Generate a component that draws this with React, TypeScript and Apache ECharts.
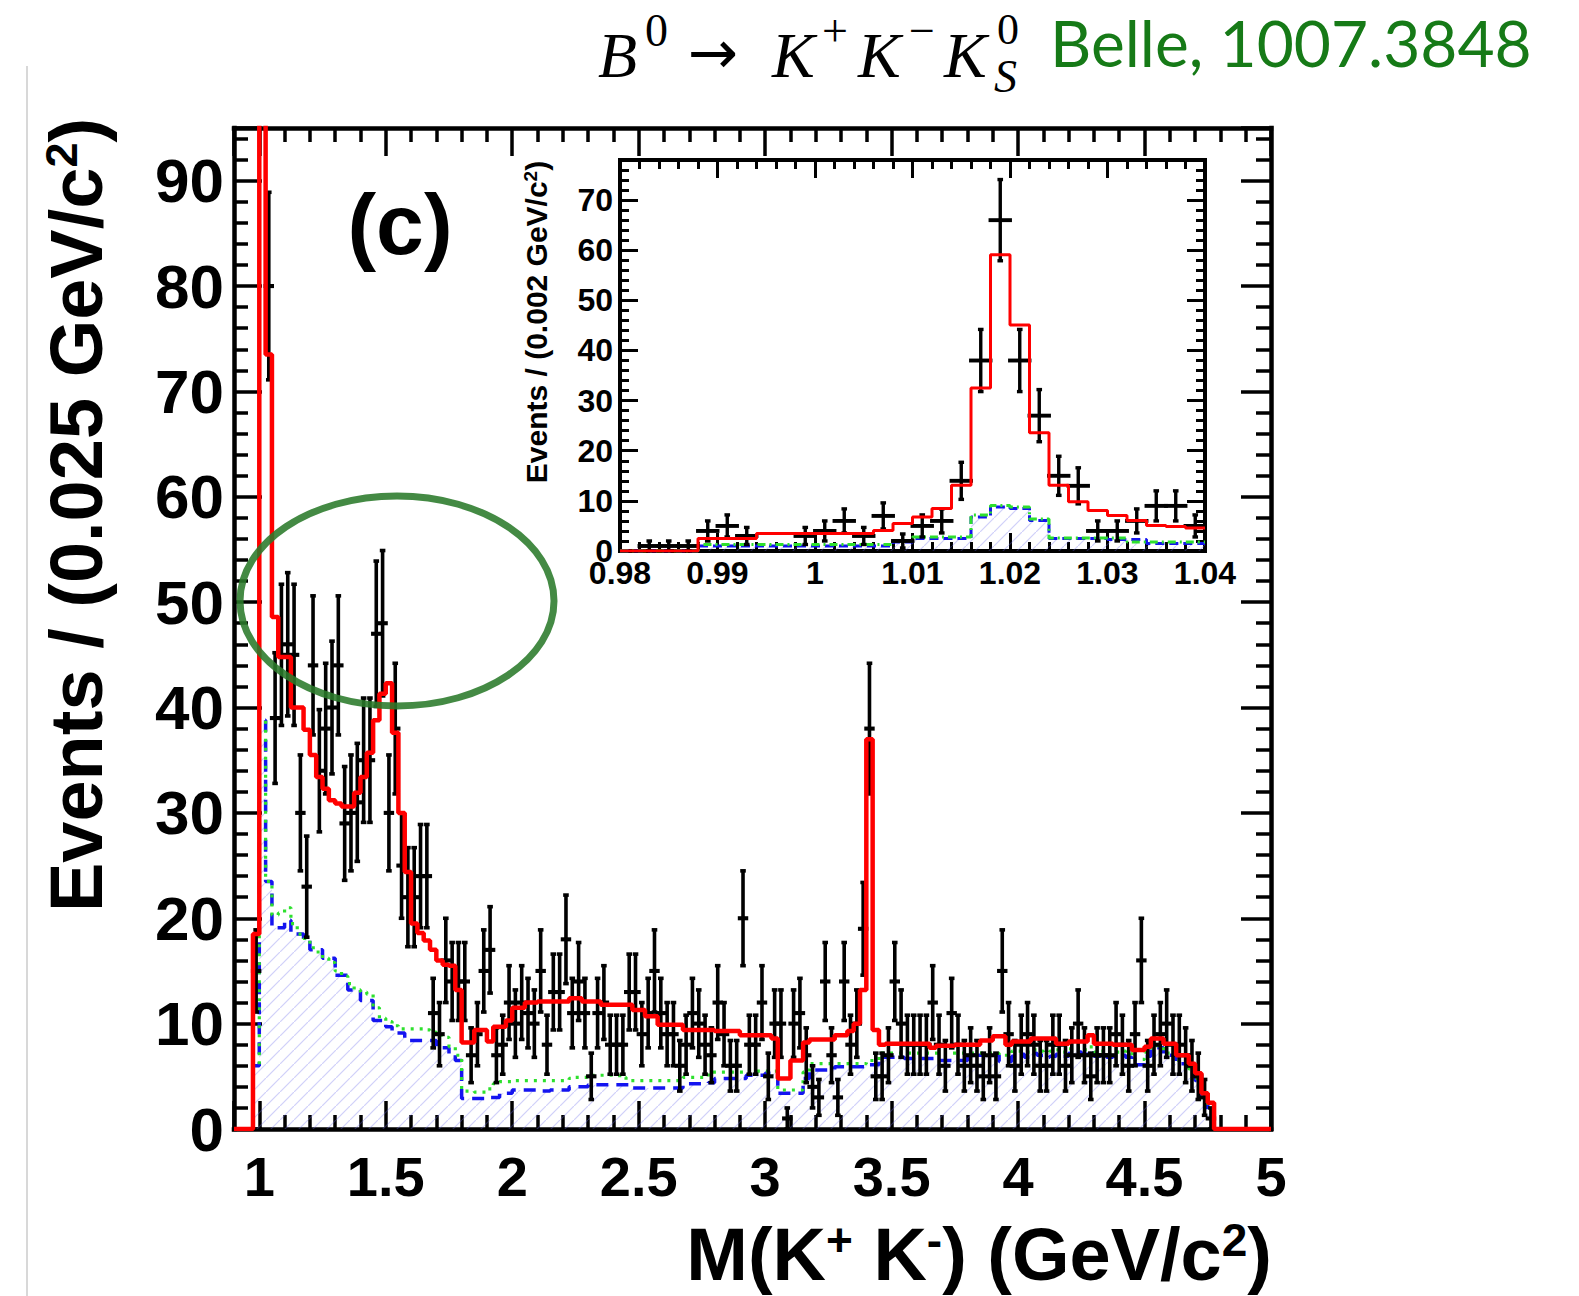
import React, { useEffect, useRef } from "react";
import * as echarts from "echarts";

// ---------- main histogram: M(K+K-) in bins of 0.025 GeV/c^2, 0.9 .. 5.0 ----------
const MAIN_X0 = 0.9;
const MAIN_BIN = 0.025;

const mainCounts: (number | null)[] = [
  null, null, null, 15, 150, 80, 39, 45, 46, 45,
  30, 23, 44, 34, 38, 40, 44, 29, 30, 31,
  35, 35, 47, 48, 30, 38, 25, 22, 22, 24,
  24, 11, 9, 16, 14, 14, 14, 7, 9, 15,
  17, 7, 8, 12, 10, 12, 11, 10, 15, 8,
  13, 13, 18, 11, 14, 11, 5, 11, 12, 8,
  8, 8, 13, 13, 9, 11, 15, 11, 9, 9,
  6, 8, 11, 10, 8, 7, 12, 9, 6, 6,
  20, 8, 8, 12, 5, 10, 10, 1, 10, 11,
  7, 4, 3, 14, 7, 3, 14, 8, 10, 19,
  38, 5, 5, 7, 14, 10, 8, 8, 8, 8,
  12, 8, 6, 11, 8, 6, 7, 6, 5, 7,
  5, 15, 9, 6, 8, 9, 8, 6, 6, 8,
  8, 6, 7, 10, 7, 5, 7, 7, 7, 9,
  8, 6, 9, 16, 6, 8, 9, 10, 8, 8,
  7, 6, 5, 3, 1, null, null, null, null, null,
  null, null, null, null,
];

const mainErrors: number[] = [
  0, 0, 0, 3.9, 12.2, 8.9, 6.2, 6.7, 6.8, 6.7,
  5.5, 4.8, 6.6, 5.8, 6.2, 6.3, 6.6, 5.4, 5.5, 5.6,
  5.9, 5.9, 6.9, 6.9, 5.5, 6.2, 5, 4.7, 4.7, 4.9,
  4.9, 3.3, 3, 4, 3.7, 3.7, 3.7, 2.6, 3, 3.9,
  4.1, 2.6, 2.8, 3.5, 3.2, 3.5, 3.3, 3.2, 3.9, 2.8,
  3.6, 3.6, 4.2, 3.3, 3.7, 3.3, 2.2, 3.3, 3.5, 2.8,
  2.8, 2.8, 3.6, 3.6, 3, 3.3, 3.9, 3.3, 3, 3,
  2.4, 2.8, 3.3, 3.2, 2.8, 2.6, 3.5, 3, 2.4, 2.4,
  4.5, 2.8, 2.8, 3.5, 2.2, 3.2, 3.2, 1, 3.2, 3.3,
  2.6, 2, 1.7, 3.7, 2.6, 1.7, 3.7, 2.8, 3.2, 4.4,
  6.2, 2.2, 2.2, 2.6, 3.7, 3.2, 2.8, 2.8, 2.8, 2.8,
  3.5, 2.8, 2.4, 3.3, 2.8, 2.4, 2.6, 2.4, 2.2, 2.6,
  2.2, 3.9, 3, 2.4, 2.8, 3, 2.8, 2.4, 2.4, 2.8,
  2.8, 2.4, 2.6, 3.2, 2.6, 2.2, 2.6, 2.6, 2.6, 3,
  2.8, 2.4, 3, 4, 2.4, 2.8, 3, 3.2, 2.8, 2.8,
  2.6, 2.4, 2.2, 1.7, 1, 0, 0, 0, 0, 0,
  0, 0, 0, 0,
];

const mainFit: number[] = [
  0, 0, 0, 18.5, 300, 73.5, 48.6, 44.8, 44.8, 40,
  40, 37.9, 35.5, 33.4, 32.3, 31.2, 30.9, 30.6, 30.6, 31.9,
  33.4, 35.7, 38.8, 41.3, 42.3, 37.6, 30, 24.4, 19.5, 18.6,
  17.9, 17, 16, 15.6, 15.5, 13.2, 8.2, 8.2, 9.4, 9.4,
  8.3, 9.7, 9.7, 10.3, 11.5, 11.5, 12, 12, 12.1, 12.1,
  12.1, 12.1, 12.1, 12.4, 12.4, 12.1, 12.1, 12.1, 11.8, 11.8,
  11.8, 11.8, 11.8, 11.3, 11.3, 10.7, 10.7, 9.9, 9.9, 9.9,
  9.9, 9.4, 9.4, 9.4, 9.4, 9.4, 9.3, 9.3, 9.3, 9.3,
  8.9, 8.9, 8.9, 8.9, 8.9, 8.6, 4.8, 4.8, 6.5, 6.5,
  8.2, 8.5, 8.5, 8.5, 8.5, 8.9, 8.9, 9.3, 10, 13.2,
  37, 9.4, 8, 8.1, 8.1, 8.1, 8.1, 8.1, 8.1, 8.1,
  7.7, 7.9, 7.9, 7.9, 8, 8, 8, 8, 8.4, 8.4,
  8.8, 8.8, 8, 8.3, 8.3, 8.3, 8.6, 8.6, 8.6, 8.6,
  8.1, 8.1, 8.3, 8.3, 8.3, 8.9, 8.1, 8.1, 8.1, 8,
  8, 8, 7.5, 7.5, 7.8, 8.6, 8.6, 8.1, 8.1, 7,
  7, 6.2, 5.3, 3.4, 2.5, 0, 0, 0, 0, 0,
  0, 0, 0, 0,
];

const mainBkgBlue: number[] = [
  0, 0, 0, 6, 38.8, 23.5, 19.1, 19.1, 19.8, 18.5,
  18.5, 17.9, 17, 17, 16.2, 16.2, 14.6, 14.6, 13.2, 13.2,
  12.2, 12.2, 10.3, 10.3, 9.7, 9.1, 9.1, 8.4, 8.4, 8.4,
  8.4, 8.4, 7.7, 7.7, 7, 6.5, 2.9, 2.9, 2.9, 2.9,
  3, 3, 3.4, 3.4, 3.7, 3.7, 3.7, 3.7, 3.6, 3.6,
  3.7, 3.7, 3.7, 4, 4, 4, 4.2, 4.2, 4.2, 4.2,
  4.2, 4.2, 4.2, 3.9, 3.9, 3.9, 3.9, 3.9, 3.9, 3.9,
  3.9, 4.3, 4.3, 4.3, 4.3, 4.4, 4.8, 4.8, 4.8, 4.8,
  4.8, 5.1, 5.1, 5.1, 5.3, 5.3, 3.4, 3.4, 3.4, 3.4,
  4.8, 5.6, 5.6, 5.6, 5.6, 5.9, 5.9, 5.9, 5.9, 5.9,
  6.1, 6.1, 6.8, 6.8, 6.8, 6.8, 6.7, 6.7, 6.7, 6.7,
  6.7, 6.5, 6.5, 6.5, 6.5, 6.5, 7, 7, 7, 7,
  7, 6.4, 6.4, 6.9, 7.1, 6.8, 7.2, 7, 6.8, 6.9,
  7.1, 6.9, 7.2, 7.3, 7.1, 7.4, 6.9, 7, 6.8, 6.9,
  7, 6.8, 6.1, 6.1, 6.9, 7.7, 7.7, 7, 7, 6.2,
  6.2, 5.5, 4.6, 3.1, 1.8, 0, 0, 0, 0, 0,
  0, 0, 0, 0,
];

const mainBkgGreen: number[] = [
  0, 0, 0, 6, 38.8, 23.5, 20.3, 20.5, 21, 19.5,
  18.5, 18.1, 17.2, 16.8, 16.2, 15.8, 15, 14.5, 13.8, 13.2,
  13, 12.8, 11.5, 10.5, 10.2, 9.8, 9.5, 9.5, 9.5, 9.5,
  9.4, 9.2, 8.9, 8.7, 7.8, 7, 3.6, 3.6, 3.5, 3.5,
  3.8, 4.3, 4.5, 4.5, 4.6, 4.6, 4.6, 4.6, 4.6, 4.6,
  4.6, 4.6, 4.6, 4.8, 4.9, 4.9, 5.1, 5.1, 5.1, 5.1,
  5.1, 4.9, 4.6, 4.6, 4.6, 4.6, 4.6, 4.6, 4.6, 4.6,
  4.6, 4.9, 4.9, 4.9, 4.9, 5.4, 5.4, 5.4, 5.4, 5.4,
  5.4, 5.5, 5.5, 5.5, 5.5, 5.5, 3.7, 3.7, 3.7, 3.7,
  5.4, 6.2, 6.2, 6.2, 6.2, 6.2, 6.2, 6.2, 6.2, 6.2,
  6.5, 6.5, 7.2, 7.2, 7.2, 7.2, 7.2, 7.2, 7.2, 7.2,
  7.2, 7.2, 7.2, 7.2, 7.2, 7.2, 7.2, 7.2, 7.2, 7.2,
  7.2, 7, 7, 7.4, 7.4, 7.3, 7.5, 7.4, 7.3, 7.4,
  7.5, 7.3, 7.6, 7.7, 7.5, 7.8, 7.3, 7.4, 7.2, 7.3,
  7.4, 7.2, 6.6, 6.6, 7.3, 7.9, 7.9, 7.2, 7.2, 6.5,
  6.5, 5.7, 4.8, 3.3, 2, 0, 0, 0, 0, 0,
  0, 0, 0, 0,
];

// ---------- inset: 0.98 .. 1.04 in bins of 0.002 GeV/c^2 ----------
const INSET_X0 = 0.98;
const INSET_BIN = 0.002;
const insetCounts: (number | null)[] = [
  null, 1, 1, 1, 4, 5, 3, null, null, 3,
  4, 6, 3, 7, 2, 5, 6, 14, 38, 66,
  38, 27, 15, 13, 4, 4, 6, 9, 9, 5,
];
const insetErrors: number[] = [
  0, 1, 1, 1, 2, 2.2, 1.7, 0, 0, 1.7,
  2, 2.4, 1.7, 2.6, 1.4, 2.2, 2.4, 3.7, 6.2, 8.1,
  6.2, 5.2, 3.9, 3.6, 2, 2, 2.4, 3, 3, 2.2,
];
const insetFit: number[] = [
  0, 0, 0, 0, 2.5, 2.5, 2.5, 3.5, 3.5, 3.5,
  3.5, 3.5, 3.5, 4.1, 5.5, 6.8, 8.5, 13.1, 32.5, 59.1,
  45.1, 23.6, 13.1, 9.8, 8.1, 7.1, 6.1, 5.1, 4.9, 4.6,
];
const insetBkgBlue: number[] = [
  0, 0, 0, 0, 1, 1, 1, 1, 1, 1,
  1, 1, 1, 1, 1.8, 2.5, 2.5, 2.5, 6.8, 8.8,
  8.5, 6.1, 2.5, 2.5, 2.5, 2.3, 2.3, 1.5, 1.5, 1.5,
];
const insetBkgGreen: number[] = [
  0, 0, 0, 0, 1.3, 1.3, 1.3, 1.3, 1.3, 1.3,
  1.3, 1.3, 1.3, 1.3, 2, 2.8, 2.8, 2.8, 7.2, 9.1,
  8.8, 6.4, 2.6, 2.6, 2.6, 2.6, 1.8, 1.8, 1.8, 1.8,
];

const SANS = '"Liberation Sans", Arial, Helvetica, sans-serif';
const SERIF = '"Liberation Serif", "DejaVu Serif", serif';

function stepPoints(x0: number, bw: number, vals: number[]) {
  const pts: number[][] = vals.map((v, i) => [x0 + i * bw, v]);
  pts.push([x0 + vals.length * bw, vals[vals.length - 1]]);
  return pts;
}

function errorPoints(x0: number, bw: number, vals: (number | null)[], errs: number[]) {
  const out: number[][] = [];
  vals.forEach((v, i) => {
    if (v !== null) out.push([x0 + (i + 0.5) * bw, v, errs[i]]);
  });
  return out;
}

function errorRenderer(halfBin: number, lw: number, cap: number) {
  return (params: any, api: any) => {
    const x = api.value(0);
    const y = api.value(1);
    const e = api.value(2);
    const l = api.coord([x - halfBin, y]);
    const r = api.coord([x + halfBin, y]);
    const t = api.coord([x, y + e]);
    const b = api.coord([x, Math.max(0, y - e)]);
    const st = { stroke: "#000", lineWidth: lw, fill: null };
    return {
      type: "group",
      children: [
        { type: "line", shape: { x1: t[0], y1: t[1], x2: b[0], y2: b[1] }, style: st },
        { type: "line", shape: { x1: l[0], y1: l[1], x2: r[0], y2: r[1] }, style: { ...st, lineWidth: lw + 0.5, lineCap: "square" } },
        { type: "line", shape: { x1: t[0] - cap, y1: t[1], x2: t[0] + cap, y2: t[1] }, style: st },
        { type: "line", shape: { x1: b[0] - cap, y1: b[1], x2: b[0] + cap, y2: b[1] }, style: st },
      ],
    };
  };
}

function frameAxis(o: any) {
  const { gridIndex, position, min, max, splitNumber, lineW, tickW, major, minor, label } = o;
  return {
    type: "value",
    gridIndex,
    position,
    min,
    max,
    splitNumber,
    axisLine: { show: true, onZero: false, lineStyle: { color: "#000", width: lineW, cap: "square" } },
    axisTick: { show: true, inside: true, length: major, lineStyle: { color: "#000", width: tickW } },
    minorTick: { show: true, splitNumber: 5, length: minor, lineStyle: { color: "#000", width: tickW } },
    splitLine: { show: false },
    minorSplitLine: { show: false },
    axisLabel: label ? { show: true, color: "#000", fontFamily: SANS, fontWeight: "bold", ...label } : { show: false },
  };
}

export default function App() {
  const ref = useRef<HTMLDivElement>(null);

  useEffect(() => {
    if (!ref.current) return;
    const chart = echarts.init(ref.current, undefined, { renderer: "svg" });

    const cv = document.createElement("canvas");
    cv.width = 14;
    cv.height = 14;
    const g = cv.getContext("2d");
    if (g) {
      g.strokeStyle = "rgba(110,110,235,0.32)";
      g.lineWidth = 1.2;
      g.beginPath();
      g.moveTo(-2, 16);
      g.lineTo(16, -2);
      g.stroke();
    }
    const hatch: any = { image: cv.toDataURL(), repeat: "repeat", imageWidth: 14, imageHeight: 14 };

    const mathText = (text: string, x: number, y: number, size: number, italic = false, family = SERIF) => ({
      type: "text",
      x,
      y,
      z: 50,
      style: {
        text,
        fontSize: size,
        fontFamily: family,
        fontStyle: italic ? "italic" : "normal",
        fill: "#000",
        align: "left",
        verticalAlign: "middle",
      },
    });

    const option: any = {
      animation: false,
      backgroundColor: "#fff",
      grid: [
        { left: 234, top: 128, width: 1037, height: 1001, containLabel: false },
        { left: 620, top: 160, width: 585, height: 391, containLabel: false, show: true, backgroundColor: "#fff", borderWidth: 0 },
      ],
      xAxis: [
        frameAxis({ gridIndex: 0, position: "bottom", min: 0.9, max: 5, splitNumber: 8, lineW: 4.5, tickW: 3.5, major: 28, minor: 14,
          label: { fontSize: 56, margin: 19, showMinLabel: false } }),
        frameAxis({ gridIndex: 0, position: "top", min: 0.9, max: 5, splitNumber: 8, lineW: 4.5, tickW: 3.5, major: 28, minor: 14 }),
        frameAxis({ gridIndex: 1, position: "bottom", min: 0.98, max: 1.04, splitNumber: 6, lineW: 4, tickW: 3, major: 18, minor: 9,
          label: { fontSize: 32, margin: 6 } }),
        frameAxis({ gridIndex: 1, position: "top", min: 0.98, max: 1.04, splitNumber: 6, lineW: 4, tickW: 3, major: 18, minor: 9 }),
      ],
      yAxis: [
        frameAxis({ gridIndex: 0, position: "left", min: 0, max: 95, splitNumber: 9, lineW: 4.5, tickW: 3.5, major: 28, minor: 14,
          label: { fontSize: 62, margin: 10, showMaxLabel: false } }),
        frameAxis({ gridIndex: 0, position: "right", min: 0, max: 95, splitNumber: 9, lineW: 4.5, tickW: 3.5, major: 30, minor: 15 }),
        frameAxis({ gridIndex: 1, position: "left", min: 0, max: 78, splitNumber: 8, lineW: 4, tickW: 3, major: 18, minor: 9,
          label: { fontSize: 32, margin: 7, showMaxLabel: false } }),
        frameAxis({ gridIndex: 1, position: "right", min: 0, max: 78, splitNumber: 8, lineW: 4, tickW: 3, major: 18, minor: 9 }),
      ],
      series: [
        // ---- main ----
        {
          type: "line", xAxisIndex: 0, yAxisIndex: 0, step: "end", symbol: "none", silent: true, z: 1,
          data: stepPoints(MAIN_X0, MAIN_BIN, mainBkgBlue),
          lineStyle: { width: 0, opacity: 0 },
          areaStyle: { color: hatch, opacity: 1 },
        },
        {
          type: "line", xAxisIndex: 0, yAxisIndex: 0, step: "end", symbol: "none", silent: true, z: 2,
          data: stepPoints(MAIN_X0, MAIN_BIN, mainBkgBlue),
          lineStyle: { color: "#1414f0", width: 3.5, type: [12, 8] },
        },
        {
          type: "line", xAxisIndex: 0, yAxisIndex: 0, step: "end", symbol: "none", silent: true, z: 2,
          data: stepPoints(MAIN_X0, MAIN_BIN, mainBkgGreen),
          lineStyle: { color: "#2ee02e", width: 3.2, type: [3, 6] },
        },
        {
          type: "custom", xAxisIndex: 0, yAxisIndex: 0, coordinateSystem: "cartesian2d", z: 3, clip: true, silent: true,
          encode: { x: 0, y: 1 },
          data: errorPoints(MAIN_X0, MAIN_BIN, mainCounts, mainErrors),
          renderItem: errorRenderer(MAIN_BIN / 2, 3.6, 2.8),
        },
        {
          type: "line", xAxisIndex: 0, yAxisIndex: 0, step: "end", symbol: "none", silent: true, z: 4,
          data: stepPoints(MAIN_X0, MAIN_BIN, mainFit),
          lineStyle: { color: "#ff0000", width: 4.5 },
        },
        // ---- inset ----
        {
          type: "line", xAxisIndex: 2, yAxisIndex: 2, step: "end", symbol: "none", silent: true, z: 11,
          data: stepPoints(INSET_X0, INSET_BIN, insetBkgBlue),
          lineStyle: { width: 0, opacity: 0 },
          areaStyle: { color: hatch, opacity: 1 },
        },
        {
          type: "line", xAxisIndex: 2, yAxisIndex: 2, step: "end", symbol: "none", silent: true, z: 12,
          data: stepPoints(INSET_X0, INSET_BIN, insetBkgBlue),
          lineStyle: { color: "#1414f0", width: 3, type: [9, 5] },
        },
        {
          type: "line", xAxisIndex: 2, yAxisIndex: 2, step: "end", symbol: "none", silent: true, z: 12,
          data: stepPoints(INSET_X0, INSET_BIN, insetBkgGreen),
          lineStyle: { color: "#2ee02e", width: 3, type: [8, 4, 2, 4] },
        },
        {
          type: "custom", xAxisIndex: 2, yAxisIndex: 2, coordinateSystem: "cartesian2d", z: 13, clip: true, silent: true,
          encode: { x: 0, y: 1 },
          data: errorPoints(INSET_X0, INSET_BIN, insetCounts, insetErrors),
          renderItem: errorRenderer(INSET_BIN / 2, 3.4, 2.8),
        },
        {
          type: "line", xAxisIndex: 2, yAxisIndex: 2, step: "end", symbol: "none", silent: true, z: 14,
          data: stepPoints(INSET_X0, INSET_BIN, insetFit),
          lineStyle: { color: "#ff0000", width: 3 },
        },
      ],
      graphic: [
        { type: "line", silent: true, z: 0, shape: { x1: 27, y1: 66, x2: 27, y2: 1296 }, style: { stroke: "#d8d8d8", lineWidth: 2 } },
        mathText("B", 598, 55, 64, true),
        mathText("0", 645, 30, 46),
        mathText("→", 688, 52, 60, false, '"DejaVu Sans", sans-serif'),
        mathText("K", 772, 55, 64, true),
        mathText("+", 822, 30, 46),
        mathText("K", 858, 55, 64, true),
        mathText("−", 909, 30, 46),
        mathText("K", 944, 55, 64, true),
        mathText("0", 997, 29, 44),
        mathText("S", 994, 76, 46, true),
        {
          type: "text", x: 1050, y: 42, z: 50,
          style: { text: "Belle, 1007.3848", fontFamily: "Lato, \"Open Sans\", sans-serif", fontSize: 64, fill: "#167a17", align: "left", verticalAlign: "middle" },
        },
        {
          type: "text", x: 400, y: 224, z: 50,
          style: { text: "(c)", fontFamily: SANS, fontWeight: "bold", fontSize: 86, fill: "#000", align: "center", verticalAlign: "middle" },
        },
        {
          type: "text", x: 76, y: 515, rotation: Math.PI / 2, z: 50,
          style: {
            text: "{a|Events / (0.025 GeV/c}{s|2}{a|)}",
            align: "center", verticalAlign: "middle", fill: "#000",
            rich: {
              a: { fontFamily: SANS, fontWeight: "bold", fontSize: 74, fill: "#000" },
              s: { fontFamily: SANS, fontWeight: "bold", fontSize: 45, fill: "#000", verticalAlign: "top" },
            },
          },
        },
        {
          type: "text", x: 1272, y: 1254, z: 50,
          style: {
            text: "{a|M(K}{s|+}{a| K}{s|-}{a|) (GeV/c}{s|2}{a|)}",
            align: "right", verticalAlign: "middle", fill: "#000",
            rich: {
              a: { fontFamily: SANS, fontWeight: "bold", fontSize: 74, fill: "#000" },
              s: { fontFamily: SANS, fontWeight: "bold", fontSize: 46, fill: "#000", verticalAlign: "top" },
            },
          },
        },
        {
          type: "text", x: 536, y: 322, rotation: Math.PI / 2, z: 50,
          style: {
            text: "{a|Events / (0.002 GeV/c}{s|2}{a|)}",
            align: "center", verticalAlign: "middle", fill: "#000",
            rich: {
              a: { fontFamily: SANS, fontWeight: "bold", fontSize: 30, fill: "#000" },
              s: { fontFamily: SANS, fontWeight: "bold", fontSize: 19, fill: "#000", verticalAlign: "top" },
            },
          },
        },
        {
          type: "ellipse", z: 60, silent: true,
          shape: { cx: 397, cy: 601, rx: 157, ry: 105 },
          style: { fill: "none", stroke: "#2a7a2a", lineWidth: 7, opacity: 0.88 },
        },
      ],
    };

    chart.setOption(option);
    return () => chart.dispose();
  }, []);

  return (
    <div
      ref={ref}
      style={{ position: "fixed", left: 0, top: 0, width: 1579, height: 1296, background: "#fff" }}
    />
  );
}
